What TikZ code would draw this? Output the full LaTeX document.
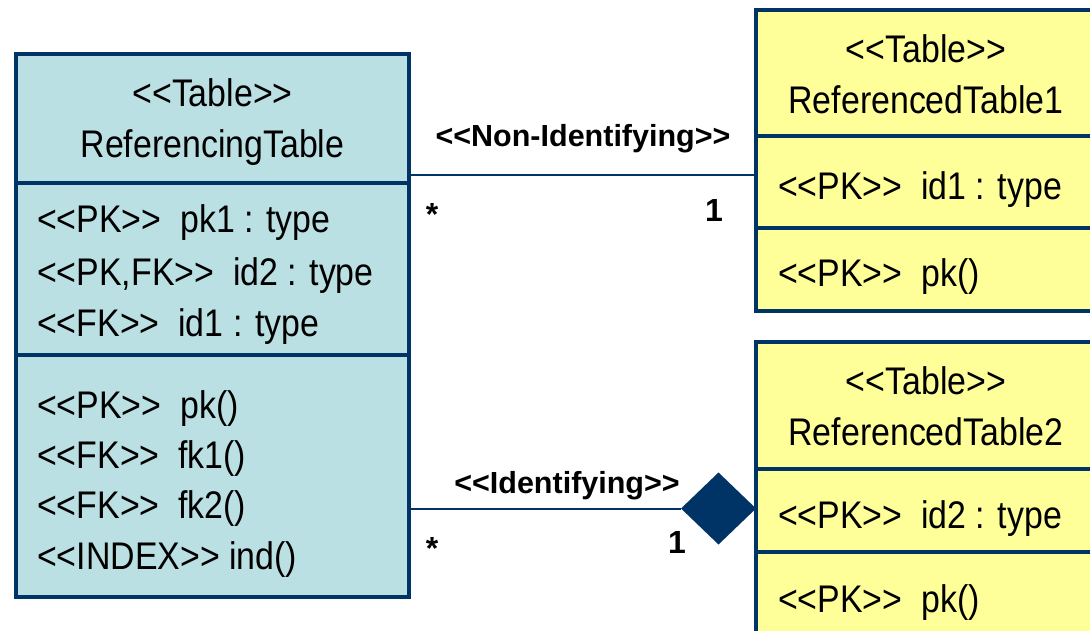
\documentclass[tikz,border=0pt]{standalone}
\usepackage{fontspec}
\newfontfamily\tabfont{Liberation Sans}[FakeStretch=0.88]
\newfontfamily\lblfont{Liberation Sans}
\usetikzlibrary{shapes.geometric}
\definecolor{navy}{HTML}{003366}
\definecolor{tblue}{HTML}{BBE0E3}
\definecolor{tyellow}{HTML}{FFFF99}
\tikzset{
  part/.style={draw=navy, line width=4pt, rectangle, inner sep=0pt, outer sep=0pt, anchor=north west},
  bluepart/.style={part, fill=tblue},
  yellowpart/.style={part, fill=tyellow},
  title/.style={font=\tabfont\fontsize{38.5}{51}\selectfont, align=center, inner sep=0pt},
  entry/.style={font=\tabfont\fontsize{38.5}{49}\selectfont, anchor=base west, inner sep=0pt},
  lbl/.style={font=\lblfont\bfseries\fontsize{30.5}{36}\selectfont, anchor=base, inner sep=0pt},
  mult/.style={font=\lblfont\bfseries\fontsize{32}{36}\selectfont, anchor=base, inner sep=0pt},
  link/.style={draw=navy, line width=2pt},
  composite/.style={diamond, fill=navy, draw=none, inner sep=0pt, outer sep=0pt,
    minimum width=75pt, minimum height=72pt},
}
\begin{document}
\begin{tikzpicture}[x=1pt, y=-1pt]
  \useasboundingbox (0,0) rectangle (1090,631);
  \clip (0,0) rectangle (1090,631);

  % referencing table
  \node[bluepart, minimum width=393pt, minimum height=129pt] (lhead) at (16,54) {};
  \node[bluepart, minimum width=393pt, minimum height=172pt] (lattr) at (lhead.south west) {};
  \node[bluepart, minimum width=393pt, minimum height=242pt] (lmeth) at (lattr.south west) {};
  \node[title] (ltitle) at ([yshift=-4pt]lhead.center) {<<Table>>\\ReferencingTable};
  \node[entry] (la1) at (37,233) {<<PK>>\ \ pk1 : type};
  \node[entry] (la2) at (37,285) {<<PK,FK>>\ \ id2 : type};
  \node[entry] (la3) at (37,336) {<<FK>>\ \ id1 : type};
  \node[entry] (lm1) at (37,418) {<<PK>>\ \ pk()};
  \node[entry] (lm2) at (37,468) {<<FK>>\ \ fk1()};
  \node[entry] (lm3) at (37,518) {<<FK>>\ \ fk2()};
  \node[entry] (lm4) at (37,569) {<<INDEX>> ind()};

  % first referenced table
  \node[yellowpart, minimum width=340pt, minimum height=126pt] (ahead) at (756,10) {};
  \node[yellowpart, minimum width=340pt, minimum height=92pt] (aattr) at (ahead.south west) {};
  \node[yellowpart, minimum width=340pt, minimum height=83pt] (ameth) at (aattr.south west) {};
  \node[title] (atitle) at ([yshift=-1pt]ahead.center) {<<Table>>\\ReferencedTable1};
  \node[entry] (aa1) at (778,200) {<<PK>>\ \ id1 : type};
  \node[entry] (am1) at (778,287) {<<PK>>\ \ pk()};

  % second referenced table
  \node[yellowpart, minimum width=340pt, minimum height=127pt] (bhead) at (756,342) {};
  \node[yellowpart, minimum width=340pt, minimum height=83pt] (battr) at (bhead.south west) {};
  \node[yellowpart, minimum width=340pt, minimum height=100pt] (bmeth) at (battr.south west) {};
  \node[title] (btitle) at ([yshift=-1pt]bhead.center) {<<Table>>\\ReferencedTable2};
  \node[entry] (ba1) at (778,528) {<<PK>>\ \ id2 : type};
  \node[entry] (bm1) at (778,612) {<<PK>>\ \ pk()};

  % non-identifying relationship
  \draw[link] ([yshift=8pt]lhead.south east) -- ([yshift=8pt]lhead.south east -| aattr.west);
  \node[lbl] (nidlabel) at (583,147) {<<Non-Identifying>>};
  \node[mult] (nidmany) at (432,226) {*};
  \node[mult] (nidone) at (714,222) {1};

  % identifying relationship
  \node[composite, anchor=east] (idhead) at ([yshift=2pt]battr.west) {};
  \draw[link] (idhead.west -| lmeth.east) -- (idhead.west);
  \node[lbl] (idlabel) at (567,493) {<<Identifying>>};
  \node[mult] (idmany) at (432,559) {*};
  \node[mult] (idone) at (677,553) {1};
\end{tikzpicture}
\end{document}
